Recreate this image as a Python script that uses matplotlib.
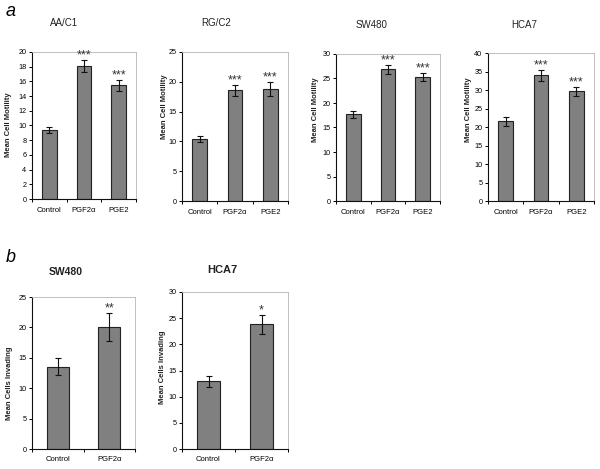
import matplotlib
matplotlib.use("Agg")
import matplotlib.pyplot as plt
import numpy as np

W, H = 600, 469

# ---- data ----
cats_a = ["Control", "PGF2α", "PGE2"]
cats_b = ["Control", "PGF2α"]

aac1_vals = [9.4, 18.1, 15.5]
aac1_err = [0.4, 0.8, 0.75]
rgc2_vals = [10.4, 18.6, 18.8]
rgc2_err = [0.5, 0.9, 1.2]
sw480_vals = [17.7, 26.9, 25.3]
sw480_err = [0.7, 0.9, 0.9]
hca7_vals = [21.5, 34.0, 29.6]
hca7_err = [1.1, 1.5, 1.2]

sw480_inv_vals = [13.5, 20.1]
sw480_inv_err = [1.4, 2.3]
hca7_inv_vals = [12.9, 23.8]
hca7_inv_err = [1.0, 1.8]

sig_a = ["", "***", "***"]
sig_sw480_inv = ["", "**"]
sig_hca7_inv = ["", "*"]

# ---- figure ----
fig = plt.figure(figsize=(W / 100, H / 100), dpi=100)
plt.rcParams['font.family'] = ['Liberation Sans', 'DejaVu Sans']

def box(l, r, t, b):
    return [l / W, (H - b) / H, (r - l) / W, (b - t) / H]

def panel(rect, cats, vals, errs, sigs, ymax, ystep, ylabel, title, title_xy,
          ylabel_xy, title_bold=False, title_size=7, xpad=6):
    ax = fig.add_axes(box(*rect))
    x = np.arange(len(cats))
    ax.bar(x, vals, width=0.42, color="#808080", edgecolor="#222222",
           linewidth=0.8, zorder=2)
    ax.errorbar(x, vals, yerr=errs, fmt="none", ecolor="#111111",
                elinewidth=0.8, capsize=2, capthick=0.8, zorder=3)
    for xi, v, e, s in zip(x, vals, errs, sigs):
        if s:
            ax.text(xi, v + e - ymax * 0.012, s, ha="center", va="bottom",
                    fontsize=9, color="#333333")
    ax.set_xlim(-0.5, len(cats) - 0.5)
    ax.set_ylim(0, ymax)
    ax.set_yticks(np.arange(0, ymax + 0.01, ystep))
    ax.set_xticks(x)
    ax.set_xticklabels(cats, fontsize=5.5)
    ax.set_xticks(np.arange(-0.5, len(cats), 1.0), minor=True)
    ax.tick_params(axis="x", which="major", length=0, pad=xpad)
    ax.tick_params(axis="x", which="minor", length=2.5, width=0.7,
                   direction="out")
    ax.tick_params(axis="y", length=2.5, width=0.7, labelsize=5.2, pad=1.5)
    for s in ["left", "bottom"]:
        ax.spines[s].set_color("#111111")
        ax.spines[s].set_linewidth(0.8)
    for s in ["top", "right"]:
        ax.spines[s].set_color("#b5b5b5")
        ax.spines[s].set_linewidth(0.6)
    fig.text(ylabel_xy[0] / W, 1 - ylabel_xy[1] / H, ylabel, rotation=90,
             ha="center", va="center", fontsize=5.5, fontweight="bold",
             color="#222222")
    fig.text(title_xy[0] / W, 1 - title_xy[1] / H, title, ha="center",
             va="center", fontsize=title_size,
             fontweight="bold" if title_bold else "normal", color="#222222")
    return ax

panel((32, 136, 52, 199), cats_a, aac1_vals, aac1_err, sig_a, 20, 2,
      "Mean Cell Motility", "AA/C1", (64, 23), (9, 125))
panel((182, 288, 52, 201), cats_a, rgc2_vals, rgc2_err, sig_a, 25, 5,
      "Mean Cell Motility", "RG/C2", (216, 23), (164, 107))
panel((336, 440, 54, 201), cats_a, sw480_vals, sw480_err, sig_a, 30, 5,
      "Mean Cell Motility", "SW480", (372, 25), (316, 110))
panel((488, 594, 53, 201), cats_a, hca7_vals, hca7_err, sig_a, 40, 5,
      "Mean Cell Motility", "HCA7", (524, 25), (469, 110))

panel((32, 135, 297, 449), cats_b, sw480_inv_vals, sw480_inv_err,
      sig_sw480_inv, 25, 5, "Mean Cells Invading", "SW480", (66, 272),
      (10, 383), title_bold=True, title_size=7.5, xpad=5)
panel((182, 288, 292, 449), cats_b, hca7_inv_vals, hca7_inv_err,
      sig_hca7_inv, 30, 5, "Mean Cells Invading", "HCA7", (222, 270),
      (163, 367), title_bold=True, title_size=8, xpad=5)

fig.text(11 / W, 1 - 11 / H, "a", fontsize=13, style="italic",
         ha="center", va="center")
fig.text(11 / W, 1 - 257 / H, "b", fontsize=13, style="italic",
         ha="center", va="center")

fig.savefig("out.png", dpi=100)
